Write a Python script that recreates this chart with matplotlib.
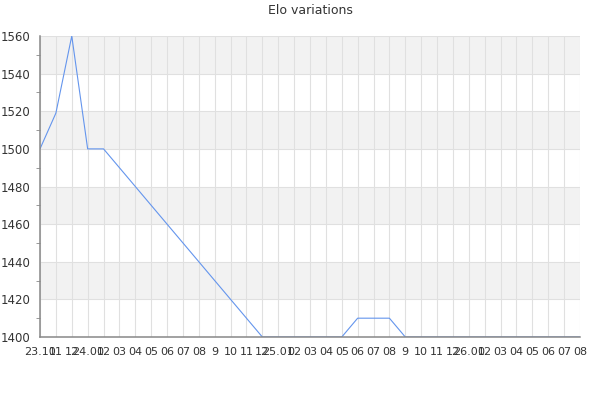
import matplotlib.pyplot as plt
import numpy as np
from matplotlib.ticker import MultipleLocator

# tick labels along the x axis, one per data point
labels = ["23.10", "11", "12",
          "24.01", "02", "03", "04", "05", "06", "07", "08", "9", "10", "11", "12",
          "25.01", "02", "03", "04", "05", "06", "07", "08", "9", "10", "11", "12",
          "26.01", "02", "03", "04", "05", "06", "07", "08"]
elo = [1500, 1519, 1560, 1500, 1500, 1490, 1480, 1470, 1460, 1450, 1440, 1430, 1420, 1410, 1400,
       1400, 1400, 1400, 1400, 1400, 1410, 1410, 1410, 1400, 1400, 1400, 1400,
       1400, 1400, 1400, 1400, 1400, 1400, 1400, 1400]

x = np.arange(len(labels))

fig = plt.figure(figsize=(6, 4), dpi=100)
ax = fig.add_axes([40/600, 63/400, 540/600, 301/400])

ymin, ymax = 1400, 1560
# alternating bands
for i, lo in enumerate(range(ymin, ymax, 20)):
    if i % 2 == 1:
        ax.axhspan(lo, lo + 20, color="#f2f2f2", zorder=0, lw=0)

ax.plot(x, elo, color="#6495ed", lw=0.8, zorder=2)

ax.set_xlim(0, len(labels) - 1)
ax.set_ylim(ymin, ymax)
ax.set_xticks(x)
ax.set_xticklabels(labels)
ax.yaxis.set_major_locator(MultipleLocator(20))
ax.yaxis.set_minor_locator(MultipleLocator(10))
ax.grid(True, which="major", color="#e0e0e0", lw=0.8, zorder=1)
ax.set_axisbelow(True)

for s in ["top", "right"]:
    ax.spines[s].set_visible(False)
for s in ["left", "bottom"]:
    ax.spines[s].set_color("#888888")
    ax.spines[s].set_linewidth(1.1)
    ax.spines[s].set_zorder(3)

ax.tick_params(axis="x", length=0, pad=7, labelsize=8, colors="#333333")
ax.tick_params(axis="y", which="major", length=0, pad=7, labelsize=8.5, colors="#333333")
ax.tick_params(axis="y", which="minor", length=3, color="#888888")

ax.set_title("Elo variations", fontsize=9, color="#333333", pad=16)

fig.savefig("out.png")
